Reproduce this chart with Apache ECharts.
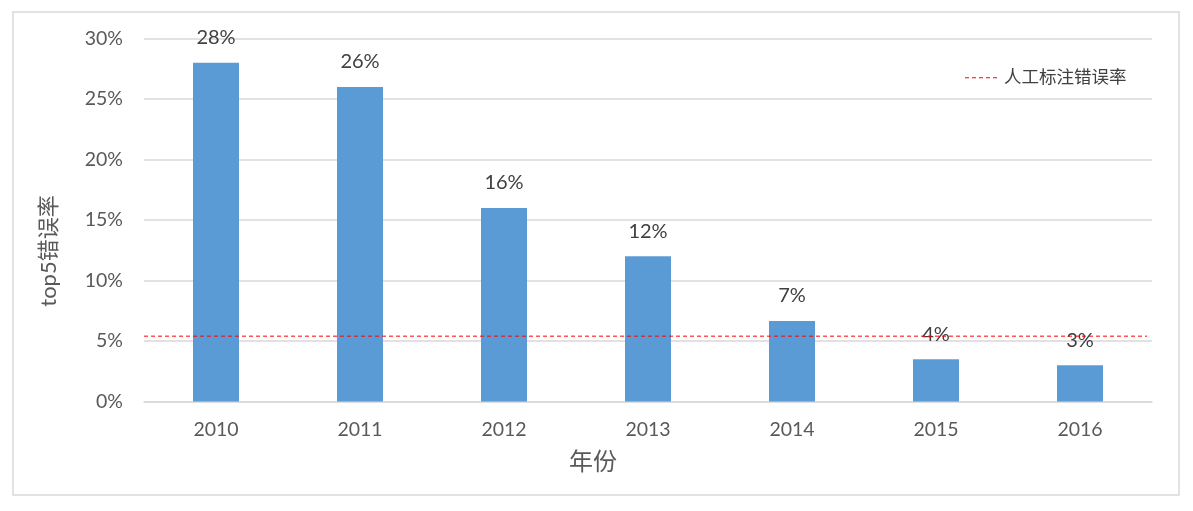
<!DOCTYPE html>
<html><head><meta charset="utf-8">
<script src="https://cdn.jsdelivr.net/npm/echarts@6/dist/echarts.min.js"></script>
<style>html,body{margin:0;padding:0;background:#fff}#c{width:1193px;height:511px}</style>
</head><body><div id="c"></div>
<script>
const years = ['2010','2011','2012','2013','2014','2015','2016'];
const errorRates = [0.28, 0.26, 0.16, 0.12, 0.0665, 0.035, 0.03];
const humanErrorRate = 0.054;
const seriesNames = ['top5错误率', '人工标注错误率'];
const FONT = "Lato, 'Noto Sans CJK SC', sans-serif";
const pct = v => Math.round(v * 100) + '%';
const dashIcon = 'path://M0,0h4v1h-4zM7,0h4v1h-4zM14,0h4v1h-4zM21,0h4v1h-4zM28,0h4v1h-4z';
const chart = echarts.init(document.getElementById('c'));
chart.setOption({
  animation: false,
  textStyle: { fontFamily: FONT },
  graphic: [{ type: 'rect', shape: { x: 13, y: 12, width: 1166, height: 483 },
    style: { fill: 'none', stroke: '#d9d9d9', lineWidth: 1.5 }, silent: true }],
  grid: { left: 144, right: 41, top: 38.5, bottom: 109.5 },
  legend: {
    data: [{ name: seriesNames[1], icon: dashIcon, itemStyle: { color: '#ff0000' } }], left: 960, top: 64, itemWidth: 32, itemHeight: 1.2, itemGap: 8,
    textStyle: { fontSize: 17.5, color: '#404040', fontFamily: FONT, padding: [0, 0, 0, 2] }
  },
  xAxis: [{
    type: 'category', data: years, name: '年份', nameLocation: 'middle', nameGap: 49,
    nameTextStyle: { fontSize: 24, color: '#595959', fontFamily: FONT, padding: [0, 110, 0, 0] },
    axisLine: { lineStyle: { color: '#d9d9d9', width: 1.5 } },
    axisTick: { show: false },
    axisLabel: { fontSize: 19.5, color: '#595959', margin: 18, fontFamily: FONT }
  }, {
    type: 'value', min: 0, max: 1.005, show: false
  }],
  yAxis: {
    type: 'value', min: 0, max: 0.3, interval: 0.05, name: seriesNames[0], nameLocation: 'middle', nameGap: 84,
    nameTextStyle: { fontSize: 22, color: '#595959', fontFamily: FONT, padding: [0, 62, 0, 0] },
    axisLine: { show: false }, axisTick: { show: false },
    splitLine: { lineStyle: { color: '#d9d9d9', width: 1.5 } },
    axisLabel: { fontSize: 19.5, color: '#595959', margin: 21, formatter: pct, fontFamily: FONT }
  },
  series: [
    { name: seriesNames[0], type: 'bar', data: errorRates, barWidth: 46,
      itemStyle: { color: '#5B9BD5' },
      label: { show: true, position: 'top', distance: 15, fontSize: 20, color: '#404040', formatter: p => pct(p.value), fontFamily: FONT } },
    { name: seriesNames[1], type: 'line', xAxisIndex: 1, data: [[0, humanErrorRate], [1, humanErrorRate]], symbol: 'none', z: 5,
      lineStyle: { color: '#ff0000', type: [4, 3], width: 1 }, itemStyle: { color: '#ff0000' } }
  ]
});
</script></body></html>
